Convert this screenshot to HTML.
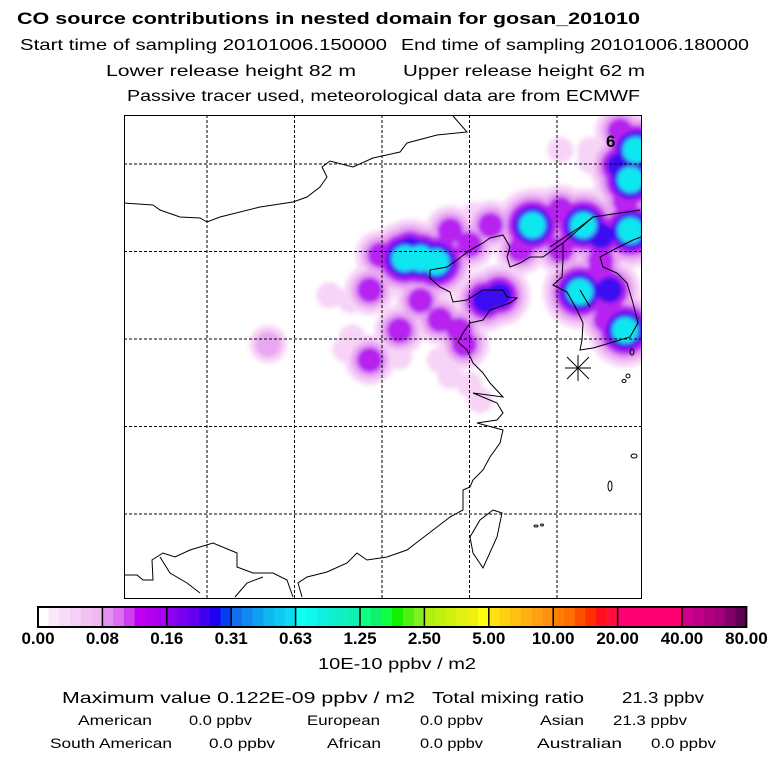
<!DOCTYPE html>
<html><head><meta charset="utf-8"><style>
html,body{margin:0;padding:0;background:#fff;width:768px;height:768px;overflow:hidden}
svg text{font-family:"Liberation Sans",sans-serif;fill:#000}
</style></head><body>
<svg id="root" width="768" height="768" viewBox="0 0 768 768" xmlns="http://www.w3.org/2000/svg">
<g>
<text x="17" y="24" font-size="17" font-weight="bold" textLength="623" lengthAdjust="spacingAndGlyphs">CO  source contributions in nested domain for gosan_201010</text>
<text x="20" y="50" font-size="16" textLength="367" lengthAdjust="spacingAndGlyphs">Start time of sampling 20101006.150000</text>
<text x="401" y="50" font-size="16" textLength="348" lengthAdjust="spacingAndGlyphs">End time of sampling 20101006.180000</text>
<text x="106" y="76" font-size="16" textLength="250" lengthAdjust="spacingAndGlyphs">Lower release height   82 m</text>
<text x="403" y="76" font-size="16" textLength="242" lengthAdjust="spacingAndGlyphs">Upper release height   62 m</text>
<text x="127" y="101" font-size="16" textLength="513" lengthAdjust="spacingAndGlyphs">Passive tracer used, meteorological data are from ECMWF</text>
</g>
<defs><clipPath id="mapclip"><rect x="124" y="115" width="517" height="483"/></clipPath>
<filter id="soft" x="-10%" y="-10%" width="120%" height="120%"><feGaussianBlur stdDeviation="2"/></filter></defs>
<g id="map" clip-path="url(#mapclip)">
<g id="plume" filter="url(#soft)"></g>
<g id="grid" stroke="#000" stroke-width="1" stroke-dasharray="3,2" fill="none"></g>
<g stroke="#000" stroke-width="1" fill="none">
<polyline points="124,203 153,205 160,210 180,217 200,218 207,222 220,217 260,207 293,202 307,197 320,187 327,177 322,167 330,161 353,167 373,158 400,152 407,143 437,135 467,132 453,116"/>
<polyline points="640,210 593,217 563,243 543,257 530,257 520,263 510,267 507,257 510,247 503,235 490,238 483,243 470,250 457,260 447,267 430,270 430,278 440,287 450,292 453,302 467,300 483,290 503,290 507,297 517,298 510,303 490,310 483,320 470,323 463,333 458,342 467,350 473,363 483,373 490,383 503,397 473,393 497,403 503,413 497,420 477,423 503,430 500,443 490,457 483,470 473,480 470,487 463,490 463,510 450,517 437,527 420,540 407,550 387,557 367,560 357,553 347,563 327,572 307,577 298,583 302,597"/>
<polyline points="563,243 563,260 562,277 553,285 567,292 577,310 583,323 582,340 580,350 593,348 610,343 620,340 630,337 638,323 633,303 627,283 617,273 603,267 600,257 613,250 633,240 641,237"/>
<polyline points="550,247 580,227 593,217"/>
<polyline points="580,290 590,307"/>
<polygon points="493,510 502,513 497,537 483,568 473,553 470,537 480,520"/>
<polyline points="124,575 137,575 143,580 153,580 152,560 163,553 175,557 190,550 213,543 237,553 237,567 253,573 273,573 287,580 293,597"/>
<polyline points="160,557 170,573 187,583 200,593"/>
<polyline points="263,577 247,583 235,597"/>
<ellipse cx="632" cy="352" rx="2" ry="3"/>
<ellipse cx="628" cy="376" rx="2" ry="2"/>
<ellipse cx="624" cy="381" rx="2" ry="1.5"/>
<ellipse cx="634" cy="456" rx="3" ry="2"/>
<ellipse cx="610" cy="486" rx="2" ry="5"/>
<ellipse cx="536" cy="526" rx="2" ry="1"/>
<ellipse cx="542" cy="525" rx="1.5" ry="1"/>
</g>
<g stroke="#000" stroke-width="1">
<line x1="567" y1="357" x2="589" y2="379"/><line x1="589" y1="357" x2="567" y2="379"/>
<line x1="578" y1="355" x2="578" y2="381"/><line x1="565" y1="368" x2="591" y2="368"/>
</g>
<text x="606" y="147" font-size="17" font-weight="bold">6</text>
</g>
<rect x="124.5" y="115.5" width="517" height="483" fill="none" stroke="#000" stroke-width="1"/>
<g id="cbar"></g>
<text x="397" y="669" font-size="16" text-anchor="middle" textLength="158" lengthAdjust="spacingAndGlyphs">10E-10 ppbv / m2</text>
<g>
<text x="62" y="703" font-size="16" textLength="353" lengthAdjust="spacingAndGlyphs">Maximum value  0.122E-09 ppbv / m2</text>
<text x="432" y="703" font-size="16" textLength="152" lengthAdjust="spacingAndGlyphs">Total mixing ratio</text>
<text x="622" y="703" font-size="16" textLength="82" lengthAdjust="spacingAndGlyphs">21.3 ppbv</text>
<text x="78" y="725" font-size="14" textLength="74" lengthAdjust="spacingAndGlyphs">American</text>
<text x="189" y="725" font-size="14" textLength="63" lengthAdjust="spacingAndGlyphs">0.0 ppbv</text>
<text x="307" y="725" font-size="14" textLength="73" lengthAdjust="spacingAndGlyphs">European</text>
<text x="420" y="725" font-size="14" textLength="63" lengthAdjust="spacingAndGlyphs">0.0 ppbv</text>
<text x="540" y="725" font-size="14" textLength="44" lengthAdjust="spacingAndGlyphs">Asian</text>
<text x="613" y="725" font-size="14" textLength="74" lengthAdjust="spacingAndGlyphs">21.3 ppbv</text>
<text x="50" y="748" font-size="14" textLength="122" lengthAdjust="spacingAndGlyphs">South American</text>
<text x="209" y="748" font-size="14" textLength="66" lengthAdjust="spacingAndGlyphs">0.0 ppbv</text>
<text x="327" y="748" font-size="14" textLength="54" lengthAdjust="spacingAndGlyphs">African</text>
<text x="420" y="748" font-size="14" textLength="63" lengthAdjust="spacingAndGlyphs">0.0 ppbv</text>
<text x="537" y="748" font-size="14" textLength="85" lengthAdjust="spacingAndGlyphs">Australian</text>
<text x="651" y="748" font-size="14" textLength="65" lengthAdjust="spacingAndGlyphs">0.0 ppbv</text>
</g>
</svg>
<script>
// ---- data ----
const gridLons = [105, 110, 115, 120, 125];
const gridLats = [45, 40, 35, 30, 25];
const blobLon = [117.2,115.5,118.3,120.0,113.2,114.9,108.5,112.0,126.9,125.2,127.5,119.5,112.9,
  126.9,128.0,124.0,120.3,118.0,113.9,113.3,118.9,120.6,116.0,
  114.9,118.9,121.2,118.3,119.7,117.2,114.3,125.2,127.5,128.0,128.9,128.6,125.2,
  122.9,120.0,127.5,127.8,116.0,114.3,119.4,
  116.6,120.9,121.7,127.5,128.6,128.0,
  116.3,117.2,118.1,123.6,126.5,129.2,129.5,129.2,126.3,128.9];
const blobLat = [36.1,34.9,33.8,32.4,37.2,37.8,34.7,37.5,45.8,45.8,42.9,41.5,34.4,
  45.2,42.1,42.9,42.1,40.9,37.4,35.1,32.9,31.5,34.0,
  39.8,41.2,41.5,36.1,34.7,37.2,37.8,40.1,38.9,36.7,42.9,46.9,42.4,
  40.1,40.4,39.5,36.1,35.5,33.8,35.5,
  40.1,37.2,37.5,40.9,44.9,37.8,
  39.6,39.6,39.4,41.5,41.5,41.2,45.8,44.1,37.7,35.5];
const blobVal = [0.04,0.04,0.04,0.03,0.03,0.04,0.07,0.03,0.03,0.03,0.04,0.04,0.04,
  0.03,0.04,0.03,0.03,0.04,0.04,0.03,0.03,0.03,0.04,
  0.12,0.12,0.12,0.12,0.12,0.1,0.1,0.12,0.12,0.12,0.12,0.12,0.1,
  0.12,0.12,0.12,0.12,0.1,0.1,0.12,
  0.25,0.25,0.25,0.25,0.25,0.2,
  0.5,0.5,0.5,0.5,0.5,0.5,0.5,0.5,0.5,0.5];
const levelVals = [0.02, 0.05, 0.1, 0.2, 0.4];
const levelColors = ['#f7d4f7','#e9a6f2','#b820f0','#3a10f0','#10e8f0'];
const cbarLabels = ['0.00','0.08','0.16','0.31','0.63','1.25','2.50','5.00','10.00','20.00','40.00','80.00'];
const cbarColors = [
 ['#ffffff','#fbe8fb','#f8dcf8','#f5cff5','#f2c2f2','#f0b8f0'],
 ['#e490f0','#dc70f0','#cc40f0','#c000f0','#b400f0','#a800f0'],
 ['#8c00f0','#7800f0','#6400f0','#4000f0','#2000f0','#0040f0'],
 ['#1070f0','#1088f0','#10a0f0','#10b8f0','#10c8f0','#10d8f0'],
 ['#10fff0','#10f8f0','#10f0e0','#10f0d0','#10f0c0','#10f0b0'],
 ['#10ff80','#10f070','#10ff40','#10f000','#50f010','#80f020'],
 ['#b0f010','#c0f010','#d0f010','#e0f010','#f0f010','#ffff10'],
 ['#ffe010','#ffd010','#ffc010','#ffb010','#ffa010','#ff9010'],
 ['#ff8000','#ff7000','#ff5000','#ff3000','#ff1020','#ff1040'],
 ['#ff0070','#ff0070','#ff0070','#ff0070','#ff0070','#ff0070'],
 ['#d0008c','#c00088','#b00080','#a00078','#800068','#600050']];
// ---- scales ----
const xOf = lon => 557 + (lon - 125) * 17.5;
const yOf = lat => 339 - (lat - 35) * 17.5;
const NS = 'http://www.w3.org/2000/svg';
function mk(tag, attrs, parent){const e=document.createElementNS(NS,tag);for(const k in attrs)e.setAttribute(k,attrs[k]);parent.appendChild(e);return e;}
const grid = document.getElementById('grid');
gridLons.forEach(lon=>{const l=mk('line',{x1:xOf(lon),x2:xOf(lon),y1:115,y2:598},grid);

});
gridLats.forEach(lat=>{const l=mk('line',{x1:124,x2:641,y1:yOf(lat),y2:yOf(lat)},grid);

});
const plume = document.getElementById('plume');
levelVals.forEach((lv,li)=>{
  blobVal.forEach((v,i)=>{
    if(v < lv) return;
    const extra = levelVals.filter(q=>q<=v).length - li - 1;
    const r = 13 + extra*6;
    const c = mk('circle',{cx:xOf(blobLon[i]),cy:yOf(blobLat[i]),r:r,fill:levelColors[li]},plume);
    
    
  });
});
const cb = document.getElementById('cbar');
const x0=38, seg=64.4, y0=607, h=20;
cbarColors.forEach((cols,si)=>{
  const sw = seg/cols.length;
  cols.forEach((col,ci)=>{
    const r=mk('rect',{x:x0+si*seg+ci*sw,y:y0,width:sw+0.6,height:h,fill:col},cb);
    
    
  });
});
cbarLabels.forEach((lab,i)=>{
  if(i>0&&i<cbarLabels.length-1){const l=mk('line',{x1:x0+i*seg,x2:x0+i*seg,y1:y0,y2:y0+h,stroke:'#000','stroke-width':1.5},cb);
  
  }
  const t=mk('text',{x:x0+i*seg,y:644,'font-size':17,'font-weight':'bold','text-anchor':'middle'},cb);
  t.textContent=lab;
  
  
});
const fr=mk('rect',{x:x0,y:y0,width:seg*11,height:h,fill:'none',stroke:'#000','stroke-width':2},cb);


</script>
</body></html>
